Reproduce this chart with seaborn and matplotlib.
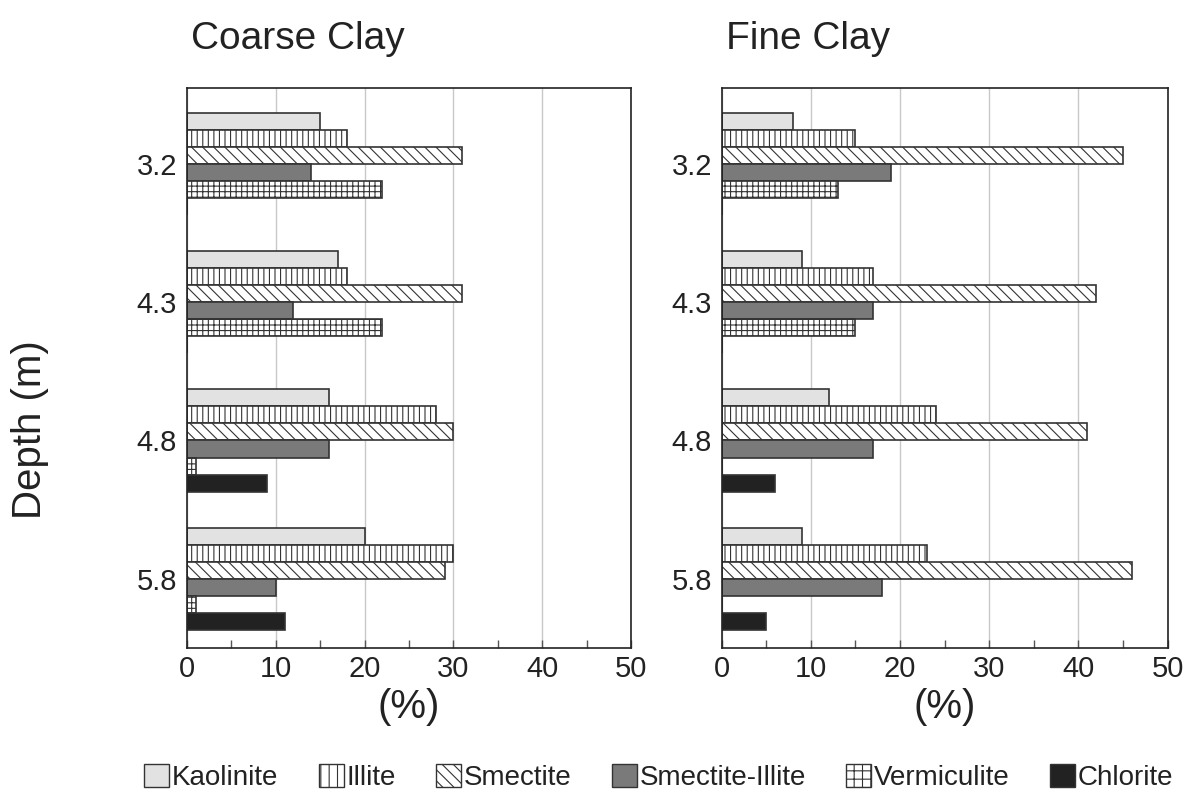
import numpy as np
import pandas as pd
import matplotlib

matplotlib.use('Agg')
import matplotlib.pyplot as plt
import seaborn as sns
from matplotlib.patches import Patch
from matplotlib.ticker import MultipleLocator

# ---- data ----
depths = ['3.2', '4.3', '4.8', '5.8']
minerals = ['Kaolinite', 'Illite', 'Smectite', 'Smectite-Illite', 'Vermiculite', 'Chlorite']

coarse_kaolinite = [15, 17, 16, 20]
coarse_illite = [18, 18, 28, 30]
coarse_smectite = [31, 31, 30, 29]
coarse_smectite_illite = [14, 12, 16, 10]
coarse_vermiculite = [22, 22, 1, 1]
coarse_chlorite = [0, 0, 9, 11]

fine_kaolinite = [8, 9, 12, 9]
fine_illite = [15, 17, 24, 23]
fine_smectite = [45, 42, 41, 46]
fine_smectite_illite = [19, 17, 17, 18]
fine_vermiculite = [13, 15, 0, 0]
fine_chlorite = [0, 0, 6, 5]

# ---- styles ----
sns.set_theme(style="white")
plt.rcParams['font.family'] = ['Liberation Sans', 'DejaVu Sans']
plt.rcParams['hatch.linewidth'] = 0.8
txt = '#222222'
plt.rcParams['text.color'] = txt
plt.rcParams['axes.labelcolor'] = txt
plt.rcParams['xtick.color'] = txt
plt.rcParams['ytick.color'] = txt

faces = {'Kaolinite': '#e2e2e2', 'Illite': 'white', 'Smectite': 'white',
         'Smectite-Illite': '#7a7a7a', 'Vermiculite': 'white', 'Chlorite': '#222222'}
hatches = {'Kaolinite': '', 'Illite': '|||', 'Smectite': '\\\\\\',
           'Smectite-Illite': '', 'Vermiculite': '+++', 'Chlorite': ''}
edge = '#333333'


def long_table(cols):
    rows = []
    for m, vals in zip(minerals, cols):
        for d, v in zip(depths, vals):
            rows.append({'Depth': d, 'Mineral': m, 'Percent': v})
    return pd.DataFrame(rows)


coarse_df = long_table([coarse_kaolinite, coarse_illite, coarse_smectite,
                        coarse_smectite_illite, coarse_vermiculite, coarse_chlorite])
fine_df = long_table([fine_kaolinite, fine_illite, fine_smectite,
                      fine_smectite_illite, fine_vermiculite, fine_chlorite])

fig = plt.figure(figsize=(11.89, 7.97), dpi=100)
ax1 = fig.add_axes([0.157, 0.187, 0.374, 0.703])
ax2 = fig.add_axes([0.607, 0.187, 0.375, 0.703])

for ax, df, title in [(ax1, coarse_df, 'Coarse Clay'), (ax2, fine_df, 'Fine Clay')]:
    sns.barplot(data=df, y='Depth', x='Percent', hue='Mineral', order=depths,
                hue_order=minerals, orient='h', width=0.74, ax=ax, legend=False,
                palette=['white'] * 6, saturation=1, errorbar=None)
    for cont, m in zip(ax.containers, minerals):
        for bar in cont:
            bar.set_facecolor(faces[m])
            bar.set_hatch(hatches[m])
            bar.set_edgecolor(edge)
            bar.set_linewidth(1.2)
    ax.set_xlim(0, 50)
    ax.set_ylim(3.50, -0.55)
    ax.set_xticks([0, 10, 20, 30, 40, 50])
    ax.xaxis.set_minor_locator(MultipleLocator(5))
    ax.grid(axis='x', which='major', color='#c8c8c8', linewidth=1.0)
    ax.set_axisbelow(True)
    for s in ax.spines.values():
        s.set_visible(True)
        s.set_color('#222222')
        s.set_linewidth(1.2)
    ax.tick_params(axis='x', which='both', bottom=True, direction='in', length=6,
                   width=1.0, color='#555555')
    ax.tick_params(axis='x', which='major', labelsize=21, pad=5)
    ax.tick_params(axis='y', left=False, length=0, labelsize=21, pad=7)
    ax.set_xlabel('(%)', fontsize=29, labelpad=4)
    ax.set_ylabel('')
    ax.set_title(title, loc='left', fontsize=28, pad=28, x=0.01)

ax1.set_ylabel('Depth (m)', fontsize=29)
ax1.yaxis.set_label_coords(-0.31, 0.39)

handles = [Patch(facecolor=faces[m], hatch=hatches[m].replace('|||', '||').replace('+++', '++'),
                 edgecolor=edge, linewidth=1.0, label=m) for m in minerals]
fig.legend(handles=handles, loc='lower center', bbox_to_anchor=(0.554, -0.024), ncol=6,
           frameon=False, fontsize=20, handlelength=0.9, handleheight=0.9,
           handletextpad=0.1, columnspacing=1.45)

plt.savefig('out.png', dpi=100)
plt.close()
